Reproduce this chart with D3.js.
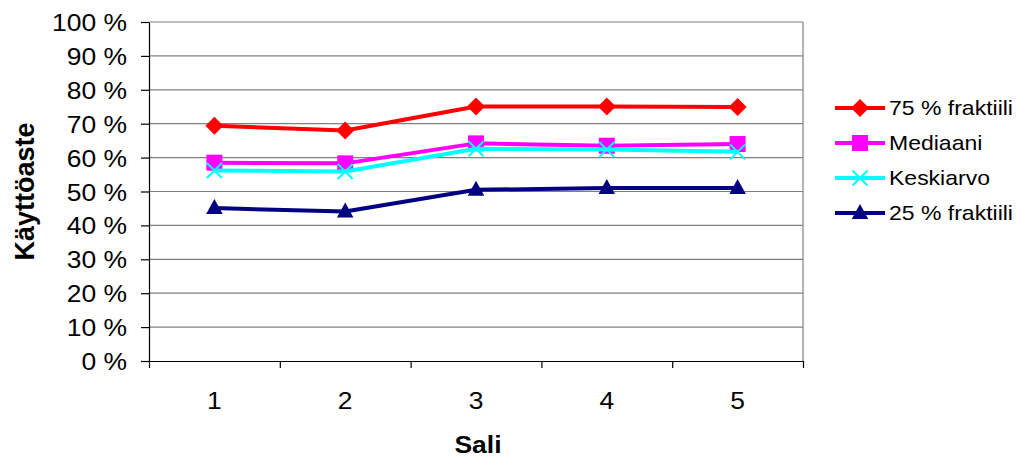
<!DOCTYPE html>
<html>
<head>
<meta charset="utf-8">
<script src="https://cdn.jsdelivr.net/npm/d3@7"></script>
<style>
  html, body { margin: 0; padding: 0; background: #fff; }
  svg { display: block; }
  text { font-family: "Liberation Sans", Arial, sans-serif; fill: #000; }
</style>
</head>
<body>
<svg id="chart" width="1016" height="458"></svg>
<script>
// Halls (x categories)
const categories = [1, 2, 3, 4, 5];
// Utilisation rates in percent per hall
const q75 = [69.4, 68.0, 75.1, 75.1, 74.9];
const median = [58.5, 58.3, 64.2, 63.5, 64.0];
const mean = [56.2, 55.9, 62.6, 62.4, 61.7];
const q25 = [45.1, 44.1, 50.5, 51.0, 51.0];
const yTicks = [0, 10, 20, 30, 40, 50, 60, 70, 80, 90, 100];
const seriesNames = ["75 % fraktiili", "Mediaani", "Keskiarvo", "25 % fraktiili"];
const seriesColors = ["#FF0000", "#FF00FF", "#00FFFF", "#000080"];
const seriesMarkers = ["diamond", "square", "cross", "triangle"];
const seriesValues = [q75, median, mean, q25];

const svg = d3.select("#chart");
const SX = 1.15; // horizontal text stretch

const plot = { left: 149, right: 803, top: 22, bottom: 361 };
const x = d3.scaleLinear().domain([0.5, 5.5]).range([plot.left, plot.right]);
const y = d3.scaleLinear().domain([0, 100]).range([plot.bottom, plot.top]);

// gridlines
svg.append("g").selectAll("line").data(yTicks.filter(d => d > 0)).join("line")
  .attr("x1", plot.left).attr("x2", plot.right)
  .attr("y1", d => y(d)).attr("y2", d => y(d))
  .attr("stroke", "#808080").attr("stroke-width", 1.2);
// right border
svg.append("line").attr("x1", plot.right).attr("x2", plot.right)
  .attr("y1", plot.top).attr("y2", plot.bottom)
  .attr("stroke", "#808080").attr("stroke-width", 1.2);

// y axis
const yAxis = svg.append("g").attr("transform", `translate(${plot.left},0)`)
  .call(d3.axisLeft(y).tickValues(yTicks).tickSize(8).tickSizeOuter(0).tickFormat(d => d + " %"));
yAxis.select(".domain").attr("stroke", "#000").attr("stroke-width", 1.2);
yAxis.selectAll(".tick line").attr("stroke", "#000").attr("stroke-width", 1.2);
yAxis.selectAll(".tick text")
  .attr("x", -22 / SX).attr("dy", "0.37em")
  .attr("transform", `scale(${SX},1)`)
  .style("font-size", "23px").style("font-family", "'Liberation Sans', Arial, sans-serif")
  .attr("fill", "#000");

// x axis tick marks at category boundaries
const xAxis = svg.append("g").attr("transform", `translate(0,${plot.bottom})`)
  .call(d3.axisBottom(x).tickValues(d3.range(0.5, 5.6, 1)).tickSize(7).tickSizeOuter(0).tickFormat(""));
xAxis.select(".domain").attr("stroke", "#000").attr("stroke-width", 1.2);
xAxis.selectAll(".tick line").attr("stroke", "#000").attr("stroke-width", 1.2);

// x category labels
svg.append("g").selectAll("text").data(categories).join("text")
  .attr("transform", d => `translate(${x(d)},409) scale(${SX},1)`)
  .attr("text-anchor", "middle")
  .style("font-size", "23px")
  .text(d => d);

// axis titles
svg.append("text")
  .attr("transform", `translate(478,453) scale(${SX},1)`)
  .attr("text-anchor", "middle")
  .style("font-size", "23px").style("font-weight", "bold")
  .text("Sali");
svg.append("text")
  .attr("transform", `translate(34,${(plot.top + plot.bottom) / 2}) rotate(-90)`)
  .attr("text-anchor", "middle")
  .style("font-size", "27px").style("font-weight", "bold")
  .text("Käyttöaste");

// marker drawing
function drawMarker(g, type, color, cx, cy) {
  if (type === "diamond") {
    const r = 9;
    g.append("path").attr("d", `M${cx},${cy - r}L${cx + r},${cy}L${cx},${cy + r}L${cx - r},${cy}Z`)
      .attr("fill", color);
  } else if (type === "square") {
    const s = 16;
    g.append("rect").attr("x", cx - s / 2).attr("y", cy - s / 2).attr("width", s).attr("height", s)
      .attr("fill", color);
  } else if (type === "cross") {
    const r = 7.5;
    g.append("path").attr("d", `M${cx - r},${cy - r}L${cx + r},${cy + r}M${cx - r},${cy + r}L${cx + r},${cy - r}`)
      .attr("stroke", color).attr("stroke-width", 2).attr("fill", "none");
  } else if (type === "triangle") {
    const w = 16.5, h = 15;
    g.append("path").attr("d", `M${cx},${cy - h * 0.6}L${cx + w / 2},${cy + h * 0.4}L${cx - w / 2},${cy + h * 0.4}Z`)
      .attr("fill", color);
  }
}

// series
const line = d3.line().x((d, i) => x(categories[i])).y(d => y(d));
seriesValues.forEach((vals, si) => {
  const g = svg.append("g");
  g.append("path").datum(vals).attr("d", line)
    .attr("fill", "none").attr("stroke", seriesColors[si]).attr("stroke-width", 4)
    .attr("stroke-linejoin", "round");
  vals.forEach((v, i) => drawMarker(g, seriesMarkers[si], seriesColors[si], x(categories[i]), y(v)));
});

// legend
const legend = svg.append("g");
seriesNames.forEach((name, i) => {
  const ly = 108 + i * 35;
  const g = legend.append("g");
  g.append("line").attr("x1", 835).attr("x2", 885).attr("y1", ly).attr("y2", ly)
    .attr("stroke", seriesColors[i]).attr("stroke-width", 4);
  drawMarker(g, seriesMarkers[i], seriesColors[i], 860, ly);
  g.append("text").attr("transform", `translate(889,${ly}) scale(${SX},1)`)
    .attr("dy", "0.37em").style("font-size", "20px").text(name);
});
</script>
</body>
</html>
